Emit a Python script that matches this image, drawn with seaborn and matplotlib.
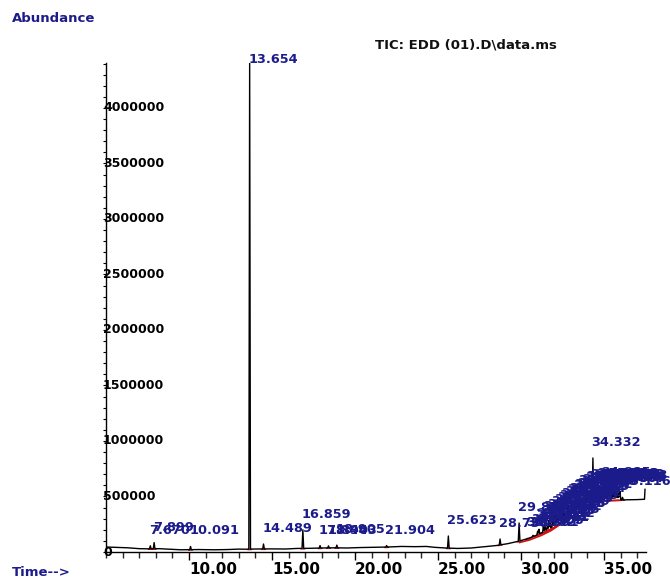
import numpy as np
import pandas as pd
import matplotlib
matplotlib.use("Agg")
import matplotlib.pyplot as plt
import seaborn as sns
from matplotlib.ticker import FixedLocator, MultipleLocator, FormatStrFormatter

sns.set_theme(style="ticks")
plt.rcParams["font.family"] = ["DejaVu Sans"]

NAVY = "#1b1b8c"

# Baseline of the total ion chromatogram (retention time in min, abundance)
base_time = [5.00, 5.60, 6.30, 7.00, 7.50, 8.20, 8.80, 9.50, 10.60, 11.50,
             12.30, 13.00, 13.40, 14.00, 15.00, 15.80, 16.50, 17.20, 18.00,
             18.80, 19.50, 20.30, 21.20, 22.00, 22.80, 23.60, 24.30, 24.80,
             25.40, 26.20, 27.00, 27.80, 28.50, 29.20, 29.80, 30.40, 31.00,
             31.60, 32.20, 32.80, 33.40, 34.00, 34.40, 35.00, 35.60, 36.30,
             37.00, 37.44, 37.47]
base_abund = [45000, 42000, 38000, 30000, 28000, 30000, 25000, 20000, 22000,
              20000, 22000, 26000, 25000, 27000, 28000, 27000, 32000, 33000,
              36000, 38000, 36000, 40000, 42000, 45000, 50000, 48000, 50000,
              42000, 36000, 32000, 36000, 48000, 58000, 75000, 95000, 120000,
              155000, 195000, 240000, 295000, 355000, 412000, 462000, 466000,
              468000, 470000, 472000, 475000, 567000]

# Integrated peaks: retention time (min) and apex abundance
peak_rt = [7.670, 7.899, 10.091, 13.654, 14.489, 16.859, 17.894, 18.403,
           18.905, 21.904, 25.623, 28.738, 29.886, 30.382, 30.561, 30.724,
           30.905, 31.002, 31.083, 31.171, 31.262, 31.349, 31.437, 31.512,
           31.588, 31.668, 31.746, 31.825, 31.903, 31.982, 32.061, 32.138,
           32.215, 32.293, 32.371, 32.449, 32.527, 32.605, 32.684, 32.762,
           32.840, 32.918, 32.995, 33.074, 33.152, 33.229, 33.306, 33.384,
           33.463, 33.541, 33.619, 33.697, 33.775, 33.852, 33.930, 34.008,
           34.086, 34.163, 34.241, 34.332, 34.419, 34.497, 34.574, 34.652,
           34.730, 34.808, 34.885, 34.963, 35.040, 35.104, 35.185, 35.262,
           35.340, 35.418, 35.496, 35.573, 35.651, 35.729, 35.807, 35.885,
           35.963, 36.116]
peak_abund = [56000, 85000, 50000, 4405000, 72000, 200000, 58000, 55000,
              62000, 58000, 144000, 117000, 261000, 122000, 128000, 150000,
              142000, 188000, 205000, 168000, 176000, 232000, 268000, 210000,
              230000, 286000, 262000, 240000, 318000, 270000, 334000, 296000,
              300000, 350000, 372000, 318000, 388000, 340000, 352000, 402000,
              420000, 372000, 436000, 410000, 398000, 455000, 468000, 430000,
              481000, 500000, 452000, 492000, 515000, 470000, 528000, 540000,
              498000, 520000, 556000, 847000, 545000, 538000, 560000, 572000,
              520000, 549000, 575000, 560000, 538000, 555000, 546000, 553000,
              570000, 566000, 528000, 541000, 562000, 558000, 520000, 532000,
              548000, 492000]

# Integration baseline drawn under the rising hump
hump_time = [29.90, 30.50, 31.20, 31.80, 32.50, 33.00]
hump_abund = [85000, 108000, 148000, 192000, 262000, 308000]

x_major = [10, 15, 20, 25, 30, 35]
y_major = [0, 500000, 1000000, 1500000, 2000000, 2500000, 3000000,
           3500000, 4000000]

half_width = 0.05

# Build the trace: baseline plus narrow peaks sitting on it
grid = sorted(set(base_time) | {v for rt in peak_rt
                                for v in (rt - half_width, rt, rt + half_width)})
grid = np.array(grid)
trace = np.interp(grid, base_time, base_abund)
for rt, h in zip(peak_rt, peak_abund):
    foot = np.interp(rt, base_time, base_abund)
    trace += np.clip(1 - np.abs(grid - rt) / half_width, 0, None) * max(h - foot, 0)
df = pd.DataFrame({"time": grid, "abundance": trace})

fig = plt.figure(figsize=(6.70, 5.77), dpi=100)
ax = fig.add_axes([106 / 670, 1 - 552 / 577, 540 / 670, 489 / 577])

# integration baselines (red)
for rt in peak_rt:
    t0, t1 = rt - 0.12, rt + 0.12
    ax.plot([t0, t1], [np.interp(t0, base_time, base_abund) - 4000,
                       np.interp(t1, base_time, base_abund) - 4000],
            color="#cc1111", lw=1.0, zorder=2)
ax.plot(hump_time, hump_abund, color="#cc1111", lw=1.2, zorder=2)

sns.lineplot(data=df, x="time", y="abundance", estimator=None, sort=False,
             color="black", lw=1.0, ax=ax, zorder=3)

ymax = max(peak_abund)
ax.set_xlim(5.0, 37.53)
ax.set_ylim(0, ymax)
ax.set_xlabel("")
ax.set_ylabel("")

ax_h_px = 489
for rt, h in zip(peak_rt, peak_abund):
    room_px = (ymax - h) / ymax * ax_h_px
    off_pt = min(12.0, room_px) / 1.389
    ax.annotate(f"{rt:.3f}", xy=(rt, h), xytext=(-1, off_pt),
                textcoords="offset points", ha="left", va="baseline",
                color=NAVY, fontweight="bold", fontsize=9.3,
                annotation_clip=False, zorder=5)

for side in ("top", "right"):
    ax.spines[side].set_visible(False)
for side in ("left", "bottom"):
    ax.spines[side].set_color("black")
    ax.spines[side].set_linewidth(1.0)

ax.xaxis.set_major_locator(FixedLocator(x_major))
ax.xaxis.set_minor_locator(MultipleLocator(1))
ax.xaxis.set_major_formatter(FormatStrFormatter("%.2f"))
ax.yaxis.set_major_locator(FixedLocator(y_major))
ax.yaxis.set_minor_locator(MultipleLocator(100000))
ax.yaxis.set_major_formatter(FormatStrFormatter("%d"))

ax.tick_params(axis="x", which="major", direction="out", length=6, width=1,
               pad=1, labelsize=11, colors="black")
ax.tick_params(axis="x", which="minor", direction="out", length=4, width=1)
ax.tick_params(axis="y", which="both", direction="out", length=2, width=0.8,
               pad=0.2, labelsize=9, colors="black")
for lab in ax.get_xticklabels():
    lab.set_ha("left")
    lab.set_fontweight("bold")
for lab in ax.get_yticklabels():
    lab.set_ha("left")
    lab.set_va("center")
    lab.set_fontweight("bold")

fig.text(12 / 670, 1 - 19 / 577, "Abundance", color=NAVY, fontweight="bold",
         fontsize=9.5, ha="left", va="center")
fig.text(12 / 670, 1 - 572 / 577, "Time-->", color=NAVY, fontweight="bold",
         fontsize=9.5, ha="left", va="center")
fig.text(375 / 670, 1 - 45 / 577, "TIC: EDD (01).D\\data.ms", color="#111111",
         fontweight="bold", fontsize=9.5, ha="left", va="center")

fig.savefig("out.png", dpi=100)
